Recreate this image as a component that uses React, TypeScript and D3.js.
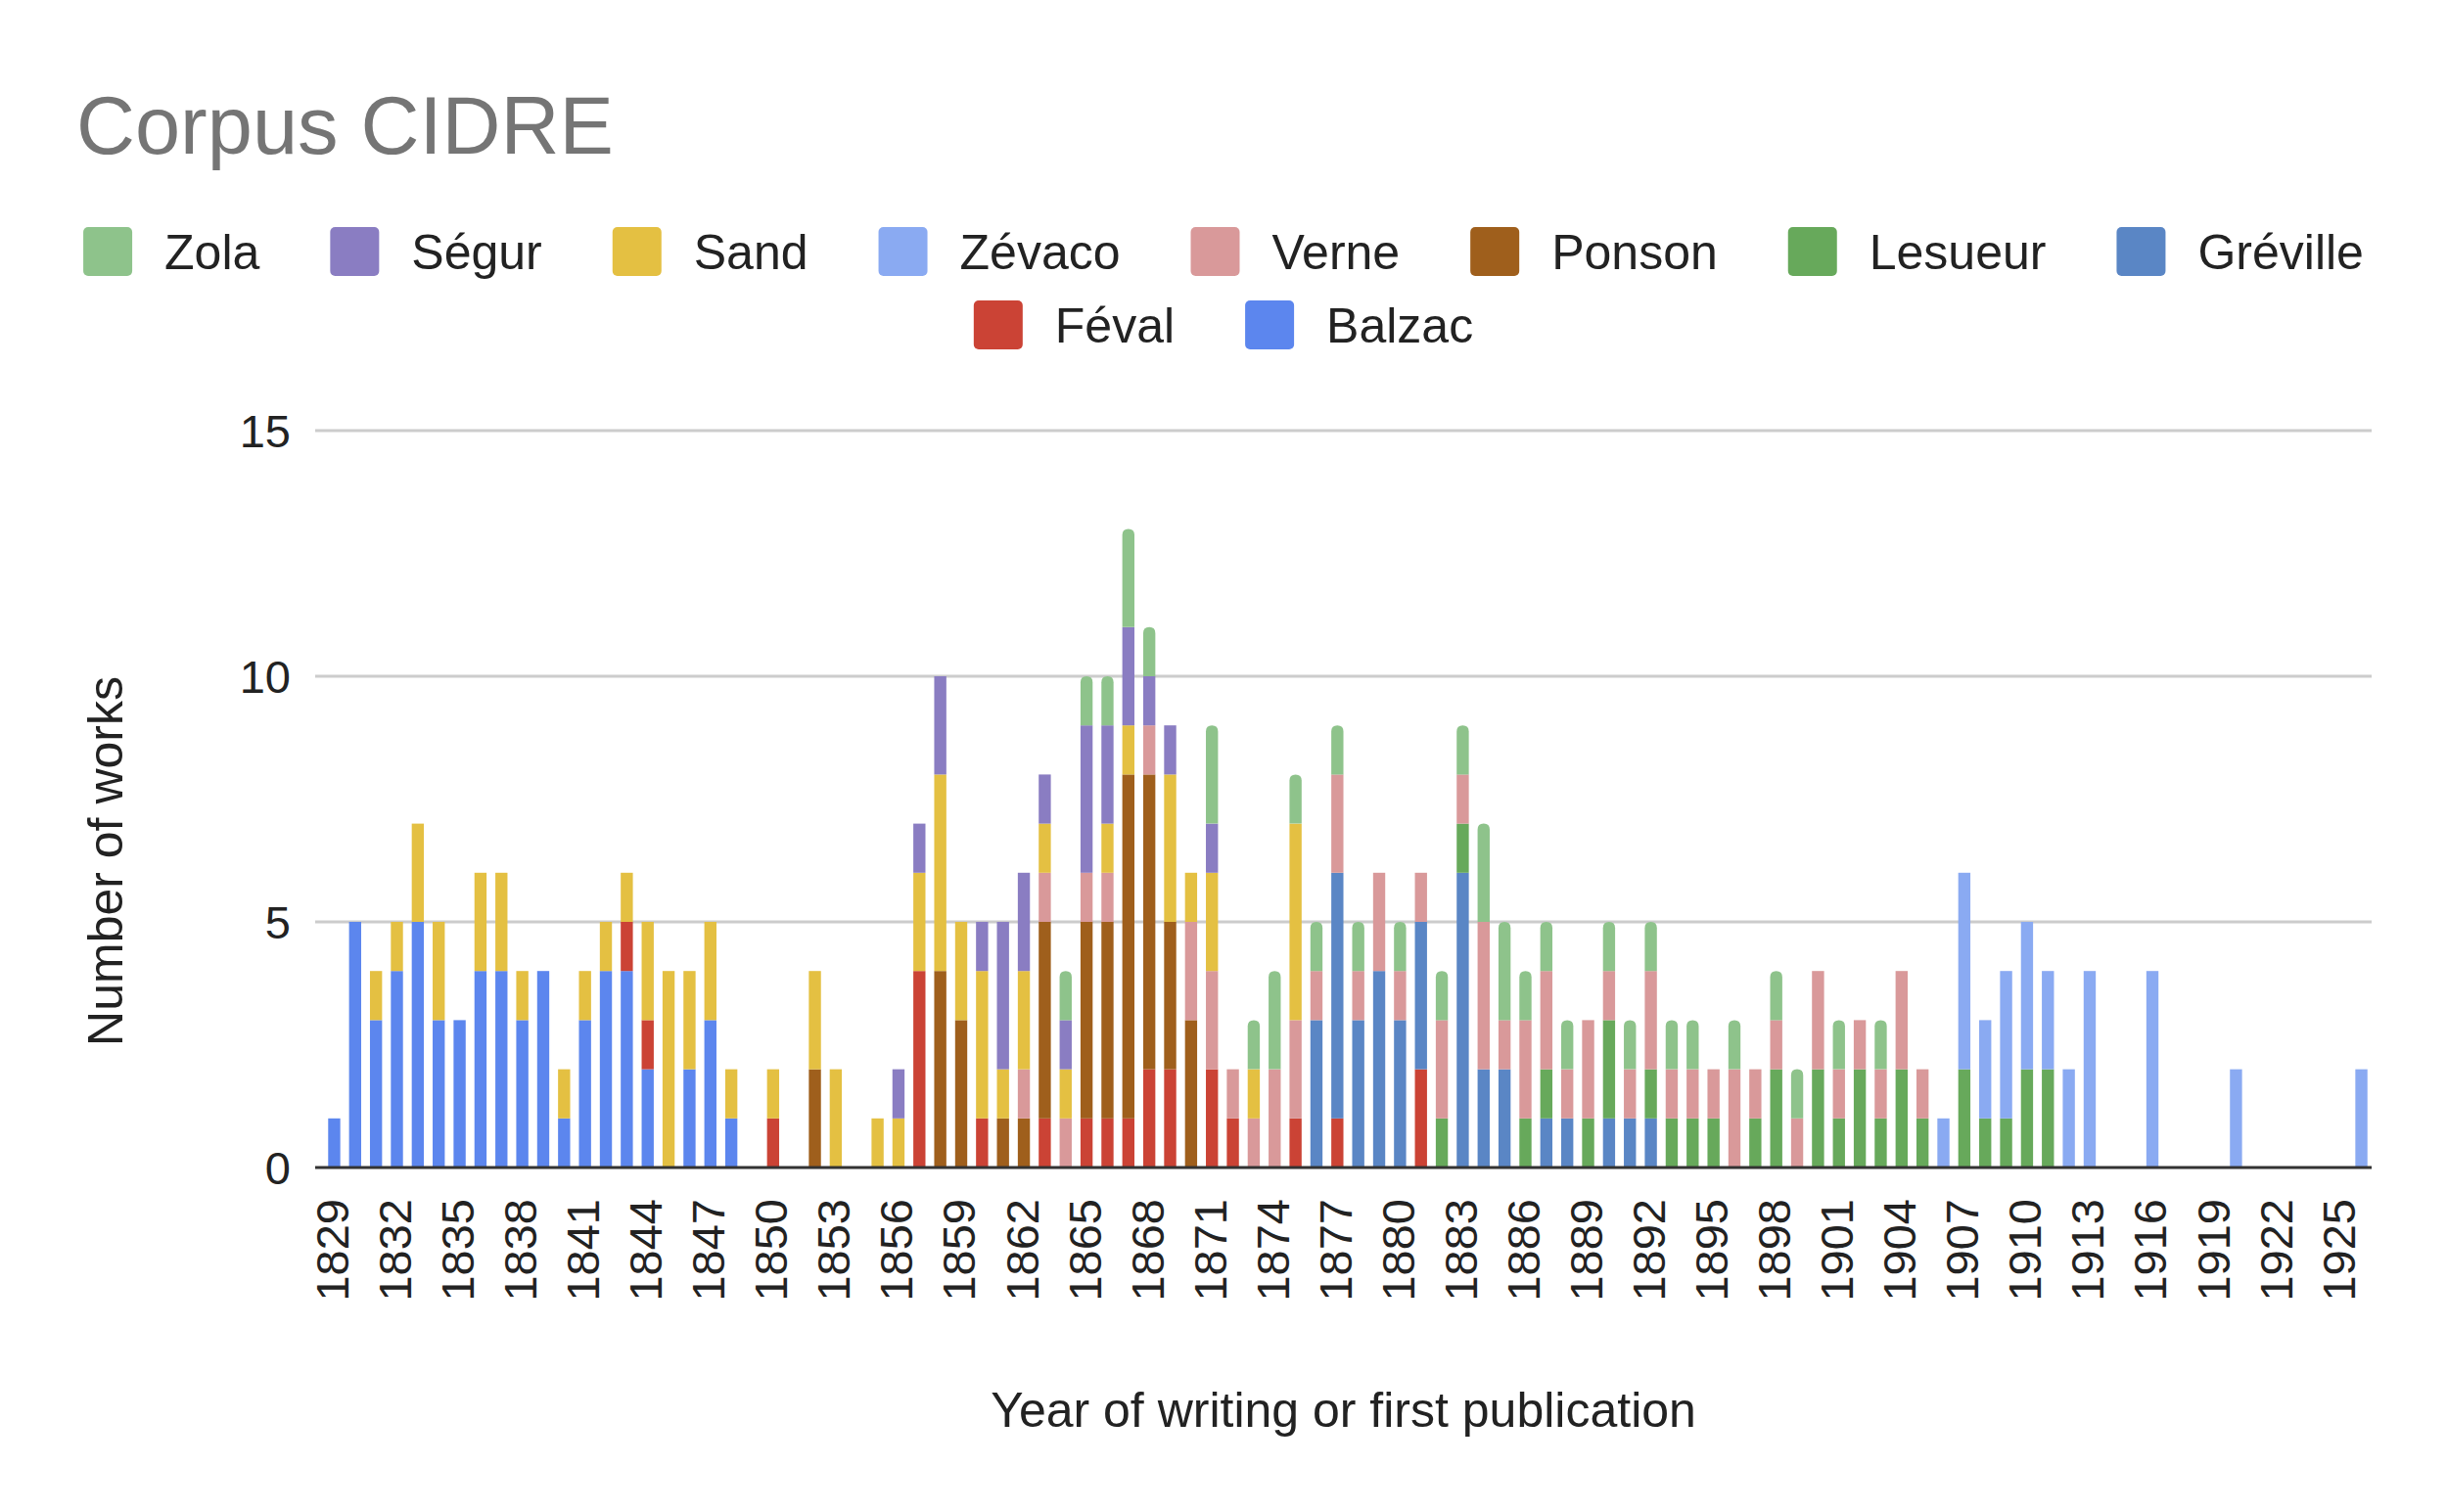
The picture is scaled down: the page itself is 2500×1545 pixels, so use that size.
import React from 'react';
import * as d3 from 'd3';

const FIRST_YEAR = 1829;
const LAST_YEAR = 1926;
const years = d3.range(FIRST_YEAR, LAST_YEAR + 1);
const tickYears = years.filter((y) => (y - FIRST_YEAR) % 3 === 0);
const yTicks = [0, 5, 10, 15];

// stacking order, bottom to top
const authors = ['Balzac', 'Féval', 'Gréville', 'Lesueur', 'Ponson', 'Verne', 'Zévaco', 'Sand', 'Ségur', 'Zola'];
// order shown in the legend
const legendOrder = ['Zola', 'Ségur', 'Sand', 'Zévaco', 'Verne', 'Ponson', 'Lesueur', 'Gréville', 'Féval', 'Balzac'];

const colors: Record<string, string> = {
  Zola: '#8ec38b',
  'Ségur': '#8a7dc2',
  Sand: '#e4c042',
  'Zévaco': '#8aaaf2',
  Verne: '#d9999a',
  Ponson: '#9f5f1c',
  Lesueur: '#67a95b',
  'Gréville': '#5a86c5',
  'Féval': '#cb4335',
  Balzac: '#5c86ee',
};

// [year, number of works]
const balzac: [number, number][] = [
  [1829, 1], [1830, 5], [1831, 3], [1832, 4], [1833, 5], [1834, 3], [1835, 3], [1836, 4],
  [1837, 4], [1838, 3], [1839, 4], [1840, 1], [1841, 3], [1842, 4], [1843, 4], [1844, 2],
  [1846, 2], [1847, 3], [1848, 1],
];
const sand: [number, number][] = [
  [1831, 1], [1832, 1], [1833, 2], [1834, 2], [1836, 2], [1837, 2], [1838, 1], [1840, 1],
  [1841, 1], [1842, 1], [1843, 1], [1844, 2], [1845, 4], [1846, 2], [1847, 2], [1848, 1],
  [1850, 1], [1852, 2], [1853, 2], [1855, 1], [1856, 1], [1857, 2], [1858, 4], [1859, 2],
  [1860, 3], [1861, 1], [1862, 2], [1863, 1], [1864, 1], [1866, 1], [1867, 1], [1869, 3],
  [1870, 1], [1871, 2], [1873, 1], [1875, 4],
];
const feval: [number, number][] = [
  [1843, 1], [1844, 1], [1850, 1], [1857, 4], [1860, 1], [1863, 1], [1865, 1], [1866, 1],
  [1867, 1], [1868, 2], [1869, 2], [1871, 2], [1872, 1], [1875, 1], [1877, 1], [1881, 2],
];
const segur: [number, number][] = [
  [1856, 1], [1857, 1], [1858, 2], [1860, 1], [1861, 3], [1862, 2], [1863, 1], [1864, 1],
  [1865, 3], [1866, 2], [1867, 2], [1868, 1], [1869, 1], [1871, 1],
];
const ponson: [number, number][] = [
  [1852, 2], [1858, 4], [1859, 3], [1861, 1], [1862, 1], [1863, 4], [1865, 4], [1866, 4],
  [1867, 7], [1868, 6], [1869, 3], [1870, 3],
];
const verne: [number, number][] = [
  [1862, 1], [1863, 1], [1864, 1], [1865, 1], [1866, 1], [1868, 1], [1870, 2], [1871, 2],
  [1872, 1], [1873, 1], [1874, 2], [1875, 2], [1876, 1], [1877, 2], [1878, 1], [1879, 2],
  [1880, 1], [1881, 1], [1882, 2], [1883, 1], [1884, 3], [1885, 1], [1886, 2], [1887, 2],
  [1888, 1], [1889, 2], [1890, 1], [1891, 1], [1892, 2], [1893, 1], [1894, 1], [1895, 1],
  [1896, 2], [1897, 1], [1898, 1], [1899, 1], [1900, 2], [1901, 1], [1902, 1], [1903, 1],
  [1904, 2], [1905, 1],
];
const zola: [number, number][] = [
  [1864, 1], [1865, 1], [1866, 1], [1867, 2], [1868, 1], [1871, 2], [1873, 1], [1874, 2],
  [1875, 1], [1876, 1], [1877, 1], [1878, 1], [1880, 1], [1882, 1], [1883, 1], [1884, 2],
  [1885, 2], [1886, 1], [1887, 1], [1888, 1], [1890, 1], [1891, 1], [1892, 1], [1893, 1],
  [1894, 1], [1896, 1], [1898, 1], [1899, 1], [1901, 1], [1903, 1],
];
const greville: [number, number][] = [
  [1876, 3], [1877, 5], [1878, 3], [1879, 4], [1880, 3], [1881, 3], [1883, 6], [1884, 2],
  [1885, 2], [1887, 1], [1888, 1], [1890, 1], [1891, 1], [1892, 1],
];
const lesueur: [number, number][] = [
  [1882, 1], [1883, 1], [1886, 1], [1887, 1], [1889, 1], [1890, 2], [1892, 1], [1893, 1],
  [1894, 1], [1895, 1], [1897, 1], [1898, 2], [1900, 2], [1901, 1], [1902, 2], [1903, 1],
  [1904, 2], [1905, 1], [1907, 2], [1908, 1], [1909, 1], [1910, 2], [1911, 2],
];
const zevaco: [number, number][] = [
  [1906, 1], [1907, 4], [1908, 2], [1909, 3], [1910, 3], [1911, 2], [1912, 2], [1913, 4],
  [1916, 4], [1920, 2], [1926, 2],
];

const seriesByAuthor: Record<string, [number, number][]> = {
  Balzac: balzac, 'Féval': feval, 'Gréville': greville, Lesueur: lesueur, Ponson: ponson,
  Verne: verne, 'Zévaco': zevaco, Sand: sand, 'Ségur': segur, Zola: zola,
};

const W = 2500;
const H = 1545;
const FONT = 'Arial, "Liberation Sans", sans-serif';
const margin = { left: 322, right: 2423, top: 440, bottom: 1193 };

// rows for d3.stack
const table = years.map((year) => {
  const row: Record<string, number> = { year };
  authors.forEach((a) => {
    const hit = seriesByAuthor[a].find((d) => d[0] === year);
    row[a] = hit ? hit[1] : 0;
  });
  return row;
});

function measure(text: string, size: number) {
  const ctx = document.createElement('canvas').getContext('2d');
  if (!ctx) return text.length * size * 0.55;
  ctx.font = `${size}px Arial, "Liberation Sans", sans-serif`;
  return ctx.measureText(text).width;
}

function roundedTop(x: number, w: number, y0: number, y1: number, r: number) {
  const rr = Math.min(r, w / 2, (y0 - y1));
  return `M${x},${y0}V${y1 + rr}Q${x},${y1} ${x + rr},${y1}H${x + w - rr}Q${x + w},${y1} ${x + w},${y1 + rr}V${y0}Z`;
}

const App: React.FC = () => {
  const x = d3.scaleBand<number>()
    .domain(years)
    .range([margin.left + 9, margin.right])
    .paddingInner(0.42)
    .paddingOuter(0.2);

  const y = d3.scaleLinear().domain([0, 15]).range([margin.bottom, margin.top]);

  const stacked = d3.stack<Record<string, number>>().keys(authors)(table);

  // legend layout: wrap rows, center each one
  const legendSize = 50;
  const sw = 50;
  const gap = 72;
  const items = legendOrder.map((name) => ({ name, w: sw + 33 + measure(name, legendSize) }));
  const rows: { name: string; w: number }[][] = [[]];
  let rowW = 0;
  items.forEach((it) => {
    const add = (rows[rows.length - 1].length ? gap : 0) + it.w;
    if (rowW + add > 2360 && rows[rows.length - 1].length) {
      rows.push([it]);
      rowW = it.w;
    } else {
      rows[rows.length - 1].push(it);
      rowW += add;
    }
  });
  const legendItems: { name: string; x: number; y: number }[] = [];
  rows.forEach((row, ri) => {
    const total = d3.sum(row, (d) => d.w) + gap * (row.length - 1);
    let cx = W / 2 - total / 2;
    row.forEach((it) => {
      legendItems.push({ name: it.name, x: cx, y: 257 + ri * 75 });
      cx += it.w + gap;
    });
  });

  return (
    <svg width={W} height={H} style={{ position: 'absolute', left: 0, top: 0, background: '#fff' }}
      fontFamily={FONT}>
      <rect width={W} height={H} fill="#fff" />
      <text x={78} y={157} fontSize={83} fill="#757575">Corpus CIDRE</text>

      {legendItems.map((d) => (
        <g key={d.name} transform={`translate(${d.x},${d.y})`}>
          <rect x={0} y={-sw / 2} width={sw} height={sw} rx={5} fill={colors[d.name]} />
          <text x={sw + 33} y={0} dy="0.36em" fontSize={legendSize} fill="#222">{d.name}</text>
        </g>
      ))}

      {yTicks.filter((t) => t > 0).map((t) => (
        <line key={t} x1={margin.left} x2={margin.right} y1={y(t)} y2={y(t)} stroke="#cccccc" strokeWidth={3} />
      ))}
      {yTicks.map((t) => (
        <text key={t} x={297} y={y(t)} dy="0.36em" textAnchor="end" fontSize={47} fill="#222">{t}</text>
      ))}

      {stacked.map((layer) => (
        <g key={layer.key} fill={colors[layer.key]}>
          {layer.map((seg, i) => {
            if (seg[1] - seg[0] <= 0) return null;
            const year = years[i];
            const bx = x(year) as number;
            const bw = x.bandwidth();
            const y0 = y(seg[0]);
            const y1 = y(seg[1]);
            if (layer.key === 'Zola') {
              return <path key={year} d={roundedTop(bx, bw, y0, y1, bw / 2)} />;
            }
            return <rect key={year} x={bx} y={y1} width={bw} height={y0 - y1} />;
          })}
        </g>
      ))}

      <line x1={margin.left} x2={margin.right} y1={margin.bottom} y2={margin.bottom} stroke="#333" strokeWidth={3} />

      {tickYears.map((t) => (
        <text key={t} transform={`translate(${(x(t) as number) + x.bandwidth() / 2 - 2},1225) rotate(-90)`}
          dy="0.35em" textAnchor="end" fontSize={47} fill="#222">{t}</text>
      ))}

      <text transform="translate(125,880) rotate(-90)" textAnchor="middle" fontSize={50} fill="#222">
        Number of works
      </text>
      <text x={(margin.left + margin.right) / 2} y={1458} textAnchor="middle" fontSize={50} fill="#222">
        Year of writing or first publication
      </text>
    </svg>
  );
};

export default App;
